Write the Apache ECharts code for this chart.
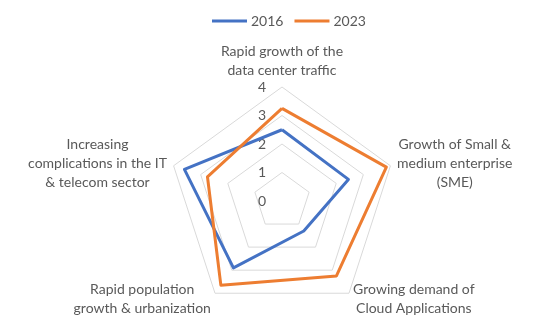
<!DOCTYPE html>
<html>
<head>
<meta charset="utf-8">
<script src="https://cdn.jsdelivr.net/npm/echarts@6/dist/echarts.min.js"></script>
<style>
html,body{margin:0;padding:0;background:#fff;}
#chart{width:540px;height:335px;}
</style>
</head>
<body>
<div id="chart"></div>
<script>
// Categories in the reference's clockwise order, starting at the top
var categories = [
  "Rapid growth of the\ndata center traffic",
  "Growth of Small &\nmedium enterprise\n(SME)",
  "Growing demand of\nCloud Applications",
  "Rapid population\ngrowth & urbanization",
  "Increasing\ncomplications in the IT\n& telecom sector"
];
var seriesNames = ["2016", "2023"];
var values2016 = [2.5, 2.45, 1.3, 2.9, 3.6];
var values2023 = [3.25, 3.85, 3.25, 3.65, 2.75];
var axisMin = 0;
var axisMax = 4;
var tickInterval = 1;

// ECharts radar runs counter-clockwise; reorder so the picture runs clockwise
var order = [0, 4, 3, 2, 1];
function reorder(arr) { return order.map(function (i) { return arr[i]; }); }

var FONT = "Lato, 'Open Sans', sans-serif";
var TEXT = "#595959";
var FS = 14;

var indicator = reorder(categories).map(function (name, k) {
  var ind = { name: name, min: axisMin, max: axisMax };
  ind.axisLabel = { show: k === 0 };
  return ind;
});

var chart = echarts.init(document.getElementById('chart'), null, { renderer: 'canvas' });
chart.setOption({
  animation: false,
  color: ["#4472C4", "#ED7D31"],
  legend: {
    data: seriesNames,
    left: 207,
    top: 9,
    icon: 'rect',
    itemWidth: 35,
    itemHeight: 3,
    itemGap: 11,
    textStyle: { color: TEXT, fontFamily: FONT, fontSize: FS, padding: [0, 0, 0, -1] }
  },
  radar: {
    center: [282, 201],
    radius: 114,
    startAngle: 90,
    splitNumber: (axisMax - axisMin) / tickInterval,
    shape: 'polygon',
    indicator: indicator,
    nameGap: 7,
    axisName: {
      color: TEXT,
      fontFamily: FONT,
      fontSize: FS,
      formatter: function (name) {
        return name.split("\n").map(function (s) { return "{c|" + s + "}"; }).join("\n");
      },
      rich: {
        c: { align: 'center', color: TEXT, fontFamily: FONT, fontSize: FS, lineHeight: 19 }
      }
    },
    axisLine: { show: false },
    axisTick: { show: false },
    axisLabel: {
      show: false,
      margin: 16,
      color: TEXT,
      fontFamily: FONT,
      fontSize: FS,
      showMinLabel: true,
      showMaxLabel: true
    },
    splitLine: { lineStyle: { color: "#D9D9D9", width: 1 } },
    splitArea: { show: false }
  },
  series: [{
    type: 'radar',
    symbol: 'none',
    data: [
      { name: seriesNames[0], value: reorder(values2016), lineStyle: { width: 3, color: "#4472C4", join: 'round' } },
      { name: seriesNames[1], value: reorder(values2023), lineStyle: { width: 3, color: "#ED7D31", join: 'round' } }
    ]
  }]
});
</script>
</body>
</html>
